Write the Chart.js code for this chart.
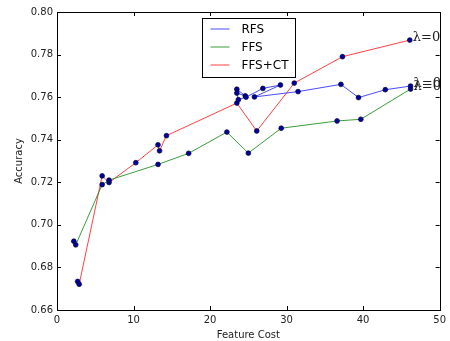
<!DOCTYPE html>
<html><head><meta charset="utf-8">
<script src="https://cdn.jsdelivr.net/npm/chart.js@4/dist/chart.umd.min.js"></script>
<style>html,body{margin:0;padding:0;background:#fff}#wrap{width:450px;height:341px}</style>
</head><body><div id="wrap"><canvas id="c" width="450" height="341"></canvas></div>
<script>
const seriesNames = ["RFS", "FFS", "FFS+CT"];
const rfsCost = [23.5, 24.6, 23.5, 23.7, 24.7, 26.9, 29.2, 25.8, 31.5, 37.1, 39.4, 42.9, 46.2];
const rfsAcc  = [0.7637, 0.7606, 0.7619, 0.7588, 0.7600, 0.7641, 0.7657, 0.7601, 0.7626, 0.7660, 0.7598, 0.7635, 0.7652];
const ffsCost = [2.2, 2.45, 5.9, 6.8, 13.2, 17.2, 22.2, 25.0, 29.3, 36.6, 39.7, 46.2];
const ffsAcc  = [0.6923, 0.6906, 0.7189, 0.7210, 0.7284, 0.7336, 0.7436, 0.7337, 0.7454, 0.7488, 0.7496, 0.7638];
const ctCost  = [2.7, 2.9, 5.9, 6.8, 10.3, 13.2, 13.4, 14.3, 23.5, 26.1, 31.0, 37.3, 46.1];
const ctAcc   = [0.6734, 0.6721, 0.7230, 0.7199, 0.7292, 0.7376, 0.7348, 0.7419, 0.7572, 0.7441, 0.7666, 0.7790, 0.7868];
const lambdaLabel = "λ=0";
const xTicks = [0, 10, 20, 30, 40, 50];
const yTicks = [0.66, 0.68, 0.70, 0.72, 0.74, 0.76, 0.78, 0.80];

const lineColors = ["rgba(30,30,255,0.8)", "rgba(10,135,10,0.8)", "rgba(255,20,20,0.8)"];
const toPts = (xs, ys) => xs.map((x, i) => ({x: x, y: ys[i]}));
const seriesData = [toPts(rfsCost, rfsAcc), toPts(ffsCost, ffsAcc), toPts(ctCost, ctAcc)];

const FONT = "'DejaVu Sans', sans-serif";

const framePlugin = {
  id: 'frame',
  afterDraw(chart) {
    const {ctx, chartArea: a, scales} = chart;
    ctx.save();
    ctx.strokeStyle = '#000';
    ctx.lineWidth = 1;
    ctx.strokeRect(Math.round(a.left) + 0.5, Math.round(a.top) + 0.5, Math.round(a.right - a.left), Math.round(a.bottom - a.top));
    ctx.beginPath();
    xTicks.forEach(v => {
      const px = Math.round(scales.x.getPixelForValue(v)) + 0.5;
      ctx.moveTo(px, a.bottom); ctx.lineTo(px, a.bottom - 4);
      ctx.moveTo(px, a.top); ctx.lineTo(px, a.top + 4);
    });
    yTicks.forEach(v => {
      const py = Math.round(scales.y.getPixelForValue(v)) + 0.5;
      ctx.moveTo(a.left, py); ctx.lineTo(a.left + 4, py);
      ctx.moveTo(a.right, py); ctx.lineTo(a.right - 4, py);
    });
    ctx.stroke();

    // lambda annotations at the last point of each series
    ctx.fillStyle = '#222';
    ctx.font = "13px 'DejaVu Serif', serif";
    ctx.textBaseline = 'alphabetic';
    ctx.textAlign = 'left';
    seriesData.forEach(d => {
      const p = d[d.length - 1];
      const px = scales.x.getPixelForValue(p.x);
      const py = scales.y.getPixelForValue(p.y);
      ctx.fillText(lambdaLabel, px + 3, py + 1);
    });

    // legend (upper center)
    const w = 93, h = 59;
    const lx = Math.round((a.left + a.right) / 2 - w / 2) + 0.5;
    const ly = Math.round(a.top + 6) + 0.5;
    ctx.fillStyle = '#fff';
    ctx.fillRect(lx, ly, w, h);
    ctx.strokeStyle = '#000';
    ctx.strokeRect(lx, ly, w, h);
    ctx.font = "12px " + FONT;
    ctx.textBaseline = 'middle';
    seriesNames.forEach((n, i) => {
      const yy = ly + 10.5 + i * 18;
      ctx.strokeStyle = lineColors[i];
      ctx.beginPath(); ctx.moveTo(lx + 8, yy); ctx.lineTo(lx + 27, yy); ctx.stroke();
      ctx.fillStyle = '#000';
      ctx.fillText(n, lx + 39, yy + 0.5);
    });
    ctx.restore();
  }
};

new Chart(document.getElementById('c'), {
  type: 'scatter',
  data: {
    datasets: seriesNames.map((n, i) => ({
      label: n,
      data: seriesData[i],
      showLine: true,
      borderColor: lineColors[i],
      borderWidth: 1,
      pointRadius: 2.4,
      pointBackgroundColor: '#0000a0',
      pointBorderColor: '#000030',
      pointBorderWidth: 0.7,
      tension: 0
    }))
  },
  options: {
    responsive: false,
    animation: false,
    devicePixelRatio: 1,
    layout: {padding: {top: 12, right: 7, left: 0, bottom: 0}},
    plugins: {legend: {display: false}, tooltip: {enabled: false}},
    scales: {
      x: {
        type: 'linear', min: 0, max: 50,
        afterBuildTicks: s => { s.ticks = xTicks.map(v => ({value: v})); },
        afterFit: s => { s.height = 31; },
        grid: {display: false, drawTicks: false},
        border: {display: false},
        ticks: {padding: 4, color: '#222', font: {family: FONT, size: 10}, callback: v => String(v)},
        title: {display: true, text: 'Feature Cost', color: '#222', font: {family: FONT, size: 10}, padding: {top: 0, bottom: 0}}
      },
      y: {
        type: 'linear', min: 0.66, max: 0.80,
        afterBuildTicks: s => { s.ticks = yTicks.map(v => ({value: v})); },
        afterFit: s => { s.width = 57; },
        grid: {display: false, drawTicks: false},
        border: {display: false},
        ticks: {padding: 4, color: '#222', font: {family: FONT, size: 10}, callback: v => Number(v).toFixed(2)},
        title: {display: true, text: 'Accuracy', color: '#222', font: {family: FONT, size: 10}, padding: {top: 13, bottom: 0}}
      }
    }
  },
  plugins: [framePlugin]
});
</script>
</body></html>
